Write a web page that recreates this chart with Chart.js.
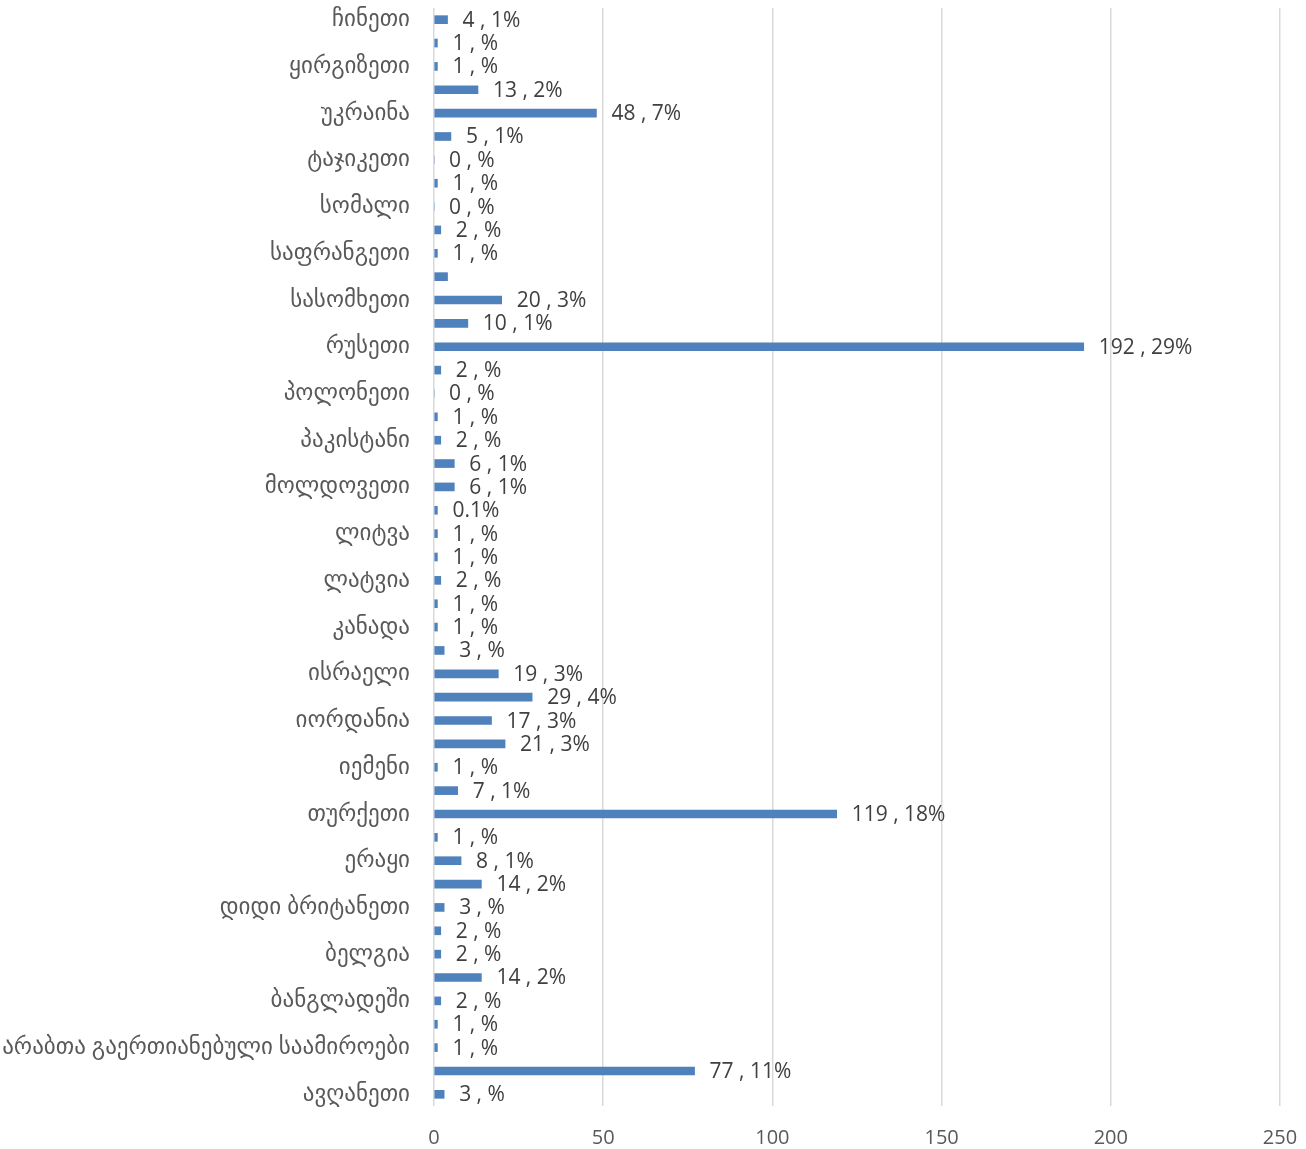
<!DOCTYPE html>
<html>
<head>
<meta charset="utf-8">
<script src="https://cdn.jsdelivr.net/npm/chart.js@4/dist/chart.umd.min.js"></script>
<style>
  html, body { margin: 0; padding: 0; background: #fff; }
  #wrap { width: 1306px; height: 1149px; position: relative; }
</style>
</head>
<body>
<div id="wrap"><canvas id="countries"></canvas></div>
<script>
// categories top to bottom (names of every second row are not shown in the picture)
var countries = [
  "ჩინეთი", "", "ყირგიზეთი", "", "უკრაინა", "", "ტაჯიკეთი", "", "სომალი", "",
  "საფრანგეთი", "", "სასომხეთი", "", "რუსეთი", "", "პოლონეთი", "", "პაკისტანი", "",
  "მოლდოვეთი", "", "ლიტვა", "", "ლატვია", "", "კანადა", "", "ისრაელი", "",
  "იორდანია", "", "იემენი", "", "თურქეთი", "", "ერაყი", "", "დიდი ბრიტანეთი", "",
  "ბელგია", "", "ბანგლადეში", "", "არაბთა გაერთიანებული საამიროები", "", "ავღანეთი"
];
var counts = [
  4, 1, 1, 13, 48, 5, 0, 1, 0, 2,
  1, 4, 20, 10, 192, 2, 0, 1, 2, 6,
  6, 1, 1, 1, 2, 1, 1, 3, 19, 29,
  17, 21, 1, 7, 119, 1, 8, 14, 3, 2,
  2, 14, 2, 1, 1, 77, 3
];
// percent text as printed next to each bar (null = no label, "0.1" = printed alone)
var shares = [
  "1", "", "", "2", "7", "1", "", "", "", "",
  "", null, "3", "1", "29", "", "", "", "", "1",
  "1", "0.1", "", "", "", "", "", "", "3", "4",
  "3", "3", "", "1", "18", "", "1", "2", "", "",
  "", "2", "", "", "", "11", ""
];
var xTicks = [0, 50, 100, 150, 200, 250];

function labelFor(i) {
  var s = shares[i];
  if (s === null) return "";
  if (s.indexOf(".") >= 0) return s + "%";
  return counts[i] + " , " + s + "%";
}

var font = "'Open Sans', 'DejaVu Sans', sans-serif";

var barLabels = {
  id: "barLabels",
  afterDatasetsDraw: function(chart) {
    var ctx = chart.ctx;
    var meta = chart.getDatasetMeta(0);
    ctx.save();
    ctx.font = "21px " + font;
    ctx.fillStyle = "#404040";
    ctx.textAlign = "left";
    ctx.textBaseline = "middle";
    meta.data.forEach(function(bar, i) {
      var t = labelFor(i);
      if (t) ctx.fillText(t, bar.x + 15, bar.y + 1);
    });
    ctx.restore();
  }
};

var ctx = document.getElementById("countries").getContext("2d");
var myChart = new Chart(ctx, {
  type: "bar",
  data: {
    labels: countries,
    datasets: [{
      data: counts,
      backgroundColor: "#4f81bd",
      borderWidth: 0,
      barThickness: 8
    }]
  },
  options: {
    indexAxis: "y",
    responsive: true,
    maintainAspectRatio: false,
    animation: false,
    layout: { padding: { top: 8, right: 26, bottom: 0, left: 0 } },
    plugins: { legend: { display: false }, tooltip: { enabled: false } },
    scales: {
      x: {
        min: 0,
        max: 250,
        afterBuildTicks: function(axis) {
          axis.ticks = xTicks.map(function(v) { return { value: v }; });
        },
        afterFit: function(axis) {
          axis.height = 43;
          axis.paddingLeft = 0;
          axis.paddingRight = 0;
        },
        grid: { color: "#d9d9d9", lineWidth: 1.5, drawTicks: false },
        border: { display: false },
        ticks: { color: "#595959", font: { size: 20, family: font }, padding: 20 }
      },
      y: {
        grid: { display: false, drawTicks: false },
        border: { display: false },
        afterFit: function(axis) {
          axis.width = 434;
          axis.paddingTop = 0;
          axis.paddingBottom = 0;
        },
        ticks: {
          autoSkip: false,
          color: "#595959",
          padding: 24,
          font: { size: 23, family: font }
        }
      }
    }
  },
  plugins: [barLabels]
});
</script>
</body>
</html>
